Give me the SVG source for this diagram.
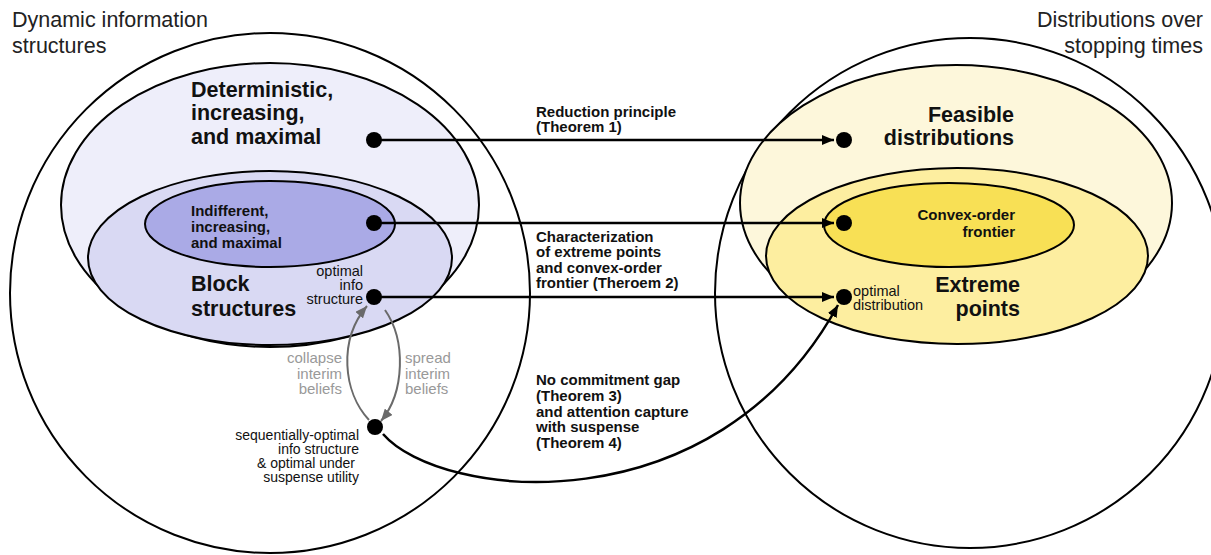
<svg xmlns="http://www.w3.org/2000/svg" width="1211" height="555" viewBox="0 0 1211 555">
<style>
text{font-family:"Liberation Sans",Arial,Helvetica,sans-serif;fill:#111}
.big{font-size:21.5px;font-weight:bold}
.med{font-size:15px;font-weight:bold}
.sm{font-size:14.5px}
.xs{font-size:14px}
.title{font-size:21.5px;fill:#222}
.gray{font-size:15px;fill:#999}
.r{text-anchor:end}
.shape{stroke:#000;stroke-width:2}
.dot{fill:#000}
.conn{fill:none;stroke:#000;stroke-width:2.5}
.gconn{fill:none;stroke:#6a6a6a;stroke-width:2}
</style>
<defs>
<marker id="ah" viewBox="0 0 12 10" refX="12" refY="5" markerWidth="12" markerHeight="10" markerUnits="userSpaceOnUse" orient="auto">
<path d="M0,0 L12,5 L0,10 Z" fill="#000"/>
</marker>
<marker id="gah" viewBox="0 0 12 10" refX="12" refY="5" markerWidth="12" markerHeight="10" markerUnits="userSpaceOnUse" orient="auto">
<path d="M0,0 L12,5 L0,10 Z" fill="#6a6a6a"/>
</marker>
</defs>
<rect width="1211" height="555" fill="#fff"/>

<g id="left-set">
<circle class="shape" cx="270" cy="293" r="260" fill="none"/>
<text class="title" x="12" y="27">Dynamic information</text>
<text class="title" x="12" y="53">structures</text>
</g>
<g id="right-set">
<circle class="shape" cx="970" cy="293" r="255" fill="none"/>
<text class="title r" x="1203" y="27">Distributions over</text>
<text class="title r" x="1203" y="53">stopping times</text>
</g>

<g id="deterministic">
<ellipse class="shape" cx="270" cy="205" rx="209" ry="142" fill="#eeeefa"/>
</g>
<g id="block">
<ellipse class="shape" cx="270" cy="258" rx="182" ry="87" fill="#d9d9f3"/>
</g>
<g id="indifferent">
<ellipse class="shape" cx="270" cy="224" rx="125" ry="43" fill="#aaaae6"/>
</g>
<g id="feasible">
<ellipse class="shape" cx="956" cy="203" rx="216" ry="138" fill="#fdf7db"/>
</g>
<g id="extreme">
<ellipse class="shape" cx="957" cy="256" rx="191" ry="88" fill="#fdeea0"/>
</g>
<g id="convex">
<ellipse class="shape" cx="949" cy="225" rx="125" ry="42" fill="#f8e055"/>
</g>

<g id="connectors">
<line class="conn" x1="374" y1="140" x2="834" y2="140" marker-end="url(#ah)"/>
<line class="conn" x1="374" y1="223" x2="834" y2="223" marker-end="url(#ah)"/>
<line class="conn" x1="374" y1="297" x2="834" y2="297" marker-end="url(#ah)"/>
<path class="conn" d="M383,434 C440,500 715,530 838,305" marker-end="url(#ah)"/>
<path class="gconn" d="M369,420 C343,392 338,340 367,306" marker-end="url(#gah)"/>
<path class="gconn" d="M385,310 C406,340 405,392 381,421" marker-end="url(#gah)"/>
</g>

<g id="labels">
<text class="med" x="536" y="117">Reduction principle</text>
<text class="med" x="536" y="132">(Theorem 1)</text>
<text class="med" x="536" y="242">Characterization</text>
<text class="med" x="536" y="257">of extreme points</text>
<text class="med" x="536" y="273">and convex-order</text>
<text class="med" x="536" y="288">frontier (Theroem 2)</text>
<text class="med" x="536" y="385">No commitment gap</text>
<text class="med" x="536" y="401">(Theorem 3)</text>
<text class="med" x="536" y="417">and attention capture</text>
<text class="med" x="536" y="432">with suspense</text>
<text class="med" x="536" y="448">(Theorem 4)</text>
<text class="gray r" x="342" y="363">collapse</text>
<text class="gray r" x="342" y="379">interim</text>
<text class="gray r" x="342" y="394">beliefs</text>
<text class="gray" x="405" y="363">spread</text>
<text class="gray" x="405" y="379">interim</text>
<text class="gray" x="405" y="394">beliefs</text>
</g>

<g id="det-text">
<text class="big" x="191" y="97">Deterministic,</text>
<text class="big" x="191" y="120">increasing,</text>
<text class="big" x="191" y="144">and maximal</text>
</g>
<g id="ind-text">
<text class="med" x="191" y="216">Indifferent,</text>
<text class="med" x="191" y="232">increasing,</text>
<text class="med" x="191" y="248">and maximal</text>
</g>
<g id="block-text">
<text class="big" x="191" y="291">Block</text>
<text class="big" x="191" y="316">structures</text>
</g>
<g id="feasible-text">
<text class="big r" x="1014" y="122">Feasible</text>
<text class="big r" x="1014" y="145">distributions</text>
</g>
<g id="convex-text">
<text class="med r" x="1015" y="220">Convex-order</text>
<text class="med r" x="1015" y="237">frontier</text>
</g>
<g id="extreme-text">
<text class="big r" x="1020" y="292">Extreme</text>
<text class="big r" x="1020" y="316">points</text>
</g>

<g id="node-det"><circle class="dot" cx="374" cy="140" r="8"/></g>
<g id="node-ind"><circle class="dot" cx="374" cy="223" r="8"/></g>
<g id="node-opt-info">
<circle class="dot" cx="374" cy="297" r="8"/>
<text class="sm r" x="363" y="276">optimal</text>
<text class="sm r" x="363" y="290">info</text>
<text class="sm r" x="363" y="304">structure</text>
</g>
<g id="node-seq">
<circle class="dot" cx="375" cy="427" r="8"/>
<text class="xs r" x="359" y="440">sequentially-optimal</text>
<text class="xs r" x="359" y="454">info structure</text>
<text class="xs r" x="355" y="468">&amp; optimal under</text>
<text class="xs r" x="359" y="482">suspense utility</text>
</g>
<g id="node-feasible"><circle class="dot" cx="844" cy="140" r="8"/></g>
<g id="node-convex"><circle class="dot" cx="844" cy="223" r="8"/></g>
<g id="node-opt-dist">
<circle class="dot" cx="844" cy="297" r="8"/>
<text class="sm" x="853" y="296">optimal</text>
<text class="sm" x="853" y="310">distribution</text>
</g>
</svg>
